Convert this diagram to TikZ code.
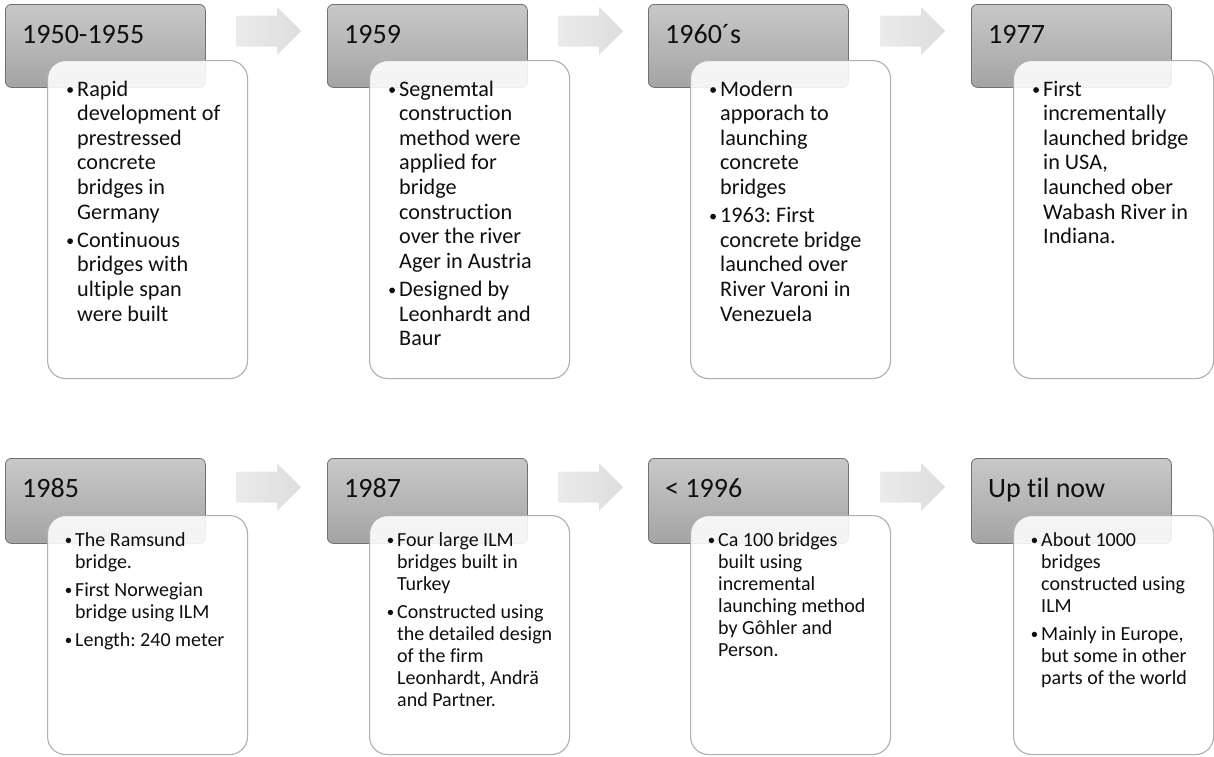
\documentclass[tikz,border=0pt]{standalone}
\usepackage{fontspec}
\setmainfont{Carlito}[Ligatures=NoCommon]
\usetikzlibrary{calc}
\frenchspacing
\definecolor{hdtop}{RGB}{200,200,200}
\definecolor{hdbot}{RGB}{164,164,164}
\definecolor{hdline}{RGB}{112,112,112}
\definecolor{bxline}{RGB}{175,175,175}
\definecolor{arrL}{RGB}{235,235,235}
\definecolor{arrR}{RGB}{221,221,221}
\definecolor{txt}{RGB}{15,15,15}
\newcommand\nl{\newline}
\newcommand\bulA{\makebox[10.5pt][l]{\hspace{0.5pt}\tikz[baseline=0pt]\fill[txt] (0pt,6pt) circle (2.9pt);}}
\newcommand\bulB{\makebox[10pt][l]{\hspace{0.5pt}\tikz[baseline=0pt]\fill[txt] (0pt,5.6pt) circle (2.7pt);}}
\newcommand\bitemA{\par\hangindent=10.5pt\hangafter=1\noindent\bulA}
\newcommand\bitemB{\par\hangindent=10pt\hangafter=1\noindent\bulB}
\newcommand\rowa[1]{\parbox[t]{260pt}{\fontsize{22.2pt}{24.6pt}\selectfont\setlength\parindent{0pt}\setlength\parskip{3.6pt}\let\bitem\bitemA#1}}
\newcommand\rowb[1]{\parbox[t]{260pt}{\fontsize{20pt}{22pt}\selectfont\setlength\parindent{0pt}\setlength\parskip{6pt}\let\bitem\bitemB#1}}
% panel: id, x0, y0, header height, body offset, body height, year
\newcommand\mypanel[7]{%
  \node[hdbox, anchor=north west, minimum height=#4] (h#1) at (#2,#3) {};
  \node[yearlbl, anchor=base west] (y#1) at ($(h#1.north west)+(17,39)$) {#7};
  \node[bodybox, anchor=north west, minimum height=#6] (b#1) at ($(h#1.north west)+(42,#5)$) {};
}
\newcommand\blockarrow[2]{%
  \path[arrowshade] (#1,#2-15.5) -- (#1+41,#2-15.5) -- (#1+41,#2-24) -- (#1+65,#2)
    -- (#1+41,#2+24) -- (#1+41,#2+15.5) -- (#1,#2+15.5) -- cycle;
}
\begin{document}
\begin{tikzpicture}[x=1pt,y=-1pt,
  hdbox/.style={draw=hdline, line width=0.8pt, top color=hdtop, bottom color=hdbot,
    rounded corners=6pt, minimum width=200pt, inner sep=0pt},
  bodybox/.style={draw=bxline, line width=1.1pt, fill=white, fill opacity=0.88,
    rounded corners=18pt, minimum width=200pt, inner sep=0pt},
  yearlbl/.style={inner sep=0pt, text=txt, font=\fontsize{28pt}{30pt}\selectfont},
  bodytxt/.style={inner sep=0pt, anchor=base west, text=txt},
  arrowshade/.style={left color=arrL, right color=arrR, draw=none}]
\useasboundingbox (0,0) rectangle (1214,756);

% arrows
\blockarrow{236}{31}
\blockarrow{558}{31}
\blockarrow{880}{31}
\blockarrow{236}{487}
\blockarrow{558}{487}
\blockarrow{880}{487}

% row 1
\mypanel{1}{5}{4}{83pt}{56}{318pt}{1950-1955}
\mypanel{2}{327}{4}{83pt}{56}{318pt}{1959}
\mypanel{3}{648}{4}{83pt}{56}{318pt}{1960´s}
\mypanel{4}{971}{4}{83pt}{56}{318pt}{1977}
% row 2
\mypanel{5}{5}{458}{85pt}{57}{239pt}{1985}
\mypanel{6}{327}{458}{85pt}{57}{239pt}{1987}
\mypanel{7}{648}{458}{85pt}{57}{239pt}{< 1996}
\mypanel{8}{971}{458}{85pt}{57}{239pt}{Up til now}

\node[bodytxt] (t1) at (66.5,96) {\rowa{%
\bitem Rapid\nl development of\nl prestressed\nl concrete\nl bridges in\nl Germany
\bitem Continuous\nl bridges with\nl ultiple span\nl were built}};
\node[bodytxt] (t2) at (388.5,96) {\rowa{%
\bitem Segnemtal\nl construction\nl method were\nl applied for\nl bridge\nl construction\nl over the river\nl Ager in Austria
\bitem Designed by\nl Leonhardt and\nl Baur}};
\node[bodytxt] (t3) at (709.5,96) {\rowa{%
\bitem Modern\nl apporach to\nl launching\nl concrete\nl bridges
\bitem 1963: First\nl concrete bridge\nl launched over\nl River Varoni in\nl Venezuela}};
\node[bodytxt] (t4) at (1032.5,96) {\rowa{%
\bitem First\nl incrementally\nl launched bridge\nl in USA,\nl launched ober\nl Wabash River in\nl Indiana.}};

\node[bodytxt] (t5) at (65,546) {\rowb{%
\bitem The Ramsund\nl bridge.
\bitem First Norwegian\nl bridge using ILM
\bitem Length: 240 meter}};
\node[bodytxt] (t6) at (387,546) {\rowb{%
\bitem Four large ILM\nl bridges built in\nl Turkey
\bitem Constructed using\nl the detailed design\nl of the firm\nl Leonhardt, Andrä\nl and Partner.}};
\node[bodytxt] (t7) at (708,546) {\rowb{%
\bitem Ca 100 bridges\nl built using\nl incremental\nl launching method\nl by Gôhler and\nl Person.}};
\node[bodytxt] (t8) at (1031,546) {\rowb{%
\bitem About 1000\nl bridges\nl constructed using\nl ILM
\bitem Mainly in Europe,\nl but some in other\nl parts of the world}};
\end{tikzpicture}
\end{document}
